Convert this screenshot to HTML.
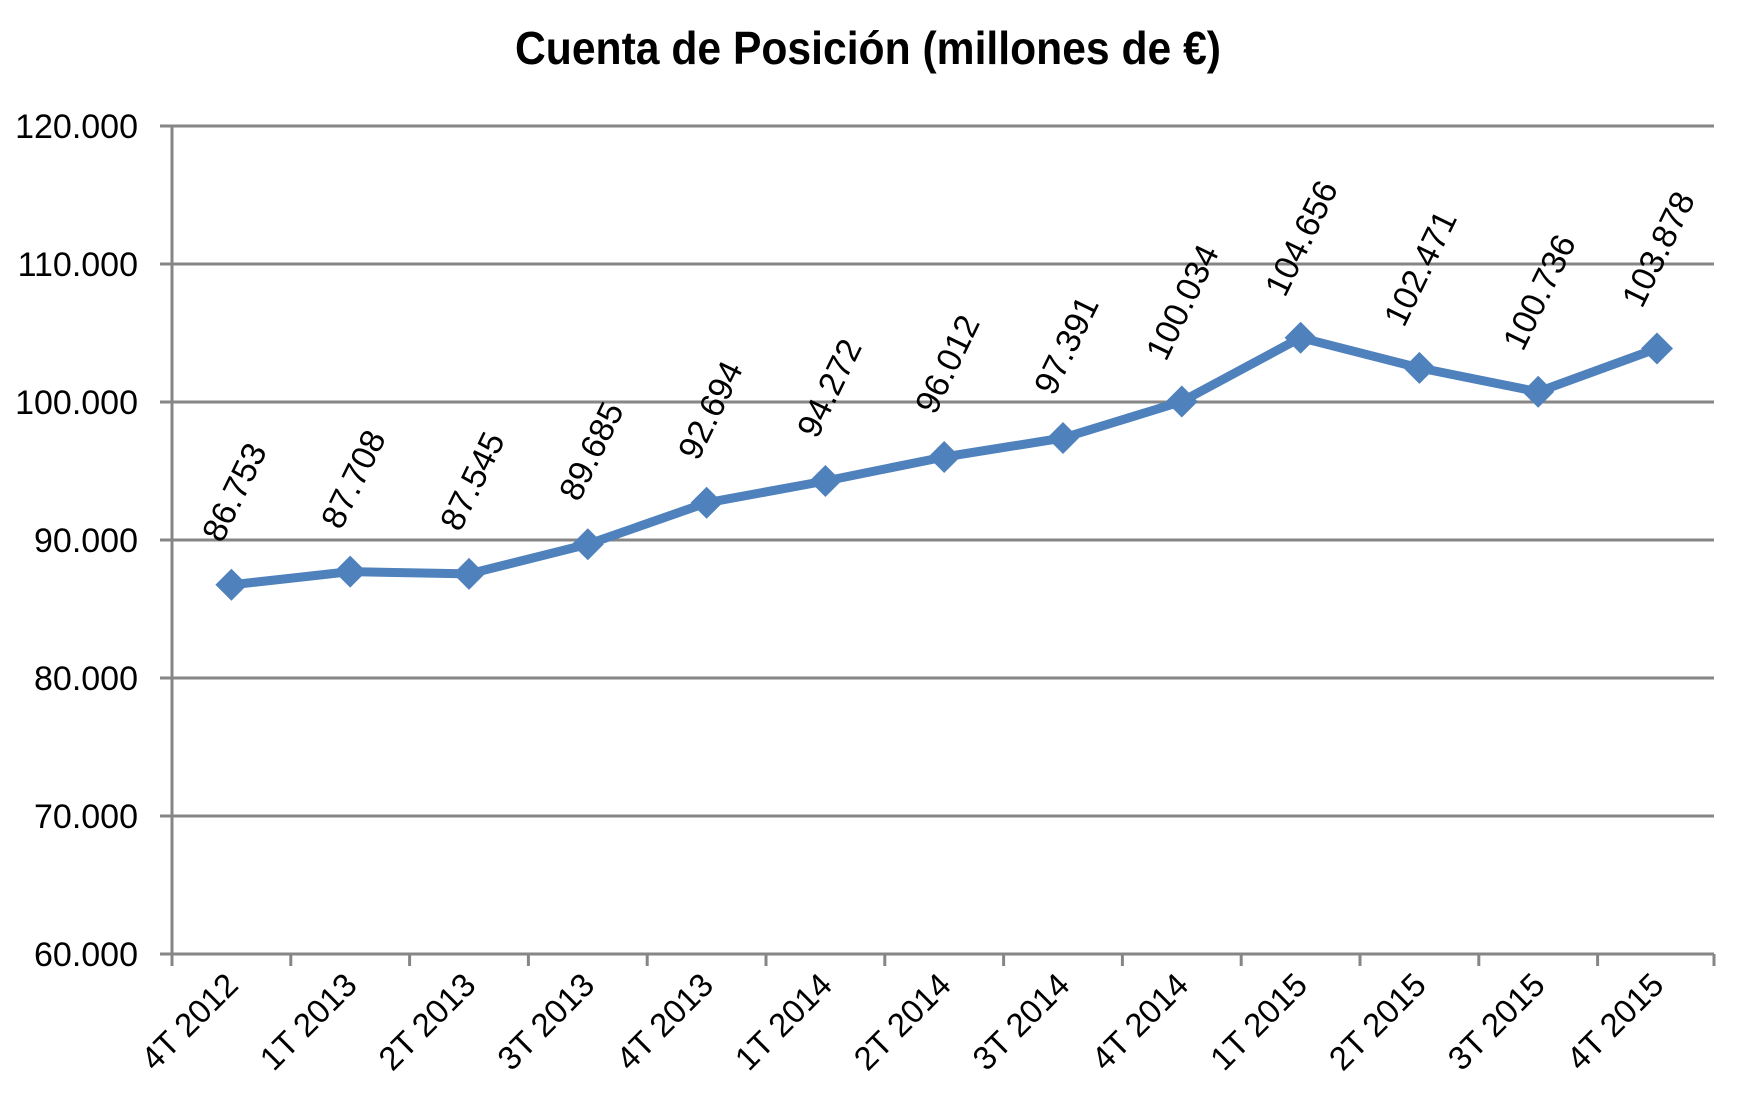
<!DOCTYPE html>
<html><head><meta charset="utf-8"><style>html,body{margin:0;padding:0;background:#fff}svg{display:block}</style></head>
<body>
<svg width="1739" height="1113" viewBox="0 0 1739 1113" xmlns="http://www.w3.org/2000/svg" font-family="Liberation Sans, sans-serif">
<text x="868" y="64" text-anchor="middle" font-size="46" font-weight="bold" textLength="706" lengthAdjust="spacingAndGlyphs">Cuenta de Posición (millones de €)</text>
<g stroke="#868686" stroke-width="3">
<line x1="160" y1="126" x2="1714" y2="126"/>
<line x1="160" y1="264" x2="1714" y2="264"/>
<line x1="160" y1="402" x2="1714" y2="402"/>
<line x1="160" y1="540" x2="1714" y2="540"/>
<line x1="160" y1="678" x2="1714" y2="678"/>
<line x1="160" y1="816" x2="1714" y2="816"/>
<line x1="160" y1="954" x2="1714" y2="954"/>
<line x1="172" y1="126" x2="172" y2="966"/>
<line x1="290.8" y1="954" x2="290.8" y2="966"/>
<line x1="409.6" y1="954" x2="409.6" y2="966"/>
<line x1="528.4" y1="954" x2="528.4" y2="966"/>
<line x1="647.2" y1="954" x2="647.2" y2="966"/>
<line x1="766" y1="954" x2="766" y2="966"/>
<line x1="884.8" y1="954" x2="884.8" y2="966"/>
<line x1="1003.6" y1="954" x2="1003.6" y2="966"/>
<line x1="1122.4" y1="954" x2="1122.4" y2="966"/>
<line x1="1241.2" y1="954" x2="1241.2" y2="966"/>
<line x1="1360" y1="954" x2="1360" y2="966"/>
<line x1="1478.8" y1="954" x2="1478.8" y2="966"/>
<line x1="1597.6" y1="954" x2="1597.6" y2="966"/>
<line x1="1714" y1="954" x2="1714" y2="966"/>
</g>
<g font-size="34" text-anchor="end" fill="#000">
<text x="138" y="138">120.000</text>
<text x="138" y="276">110.000</text>
<text x="138" y="414">100.000</text>
<text x="138" y="552">90.000</text>
<text x="138" y="690">80.000</text>
<text x="138" y="828">70.000</text>
<text x="138" y="966">60.000</text>
</g>
<g font-size="33" text-anchor="end" fill="#000">
<text transform="translate(240,987) rotate(-45)">4T 2012</text>
<text transform="translate(358.8,987) rotate(-45)">1T 2013</text>
<text transform="translate(477.6,987) rotate(-45)">2T 2013</text>
<text transform="translate(596.4,987) rotate(-45)">3T 2013</text>
<text transform="translate(715.2,987) rotate(-45)">4T 2013</text>
<text transform="translate(834,987) rotate(-45)">1T 2014</text>
<text transform="translate(952.8,987) rotate(-45)">2T 2014</text>
<text transform="translate(1071.6,987) rotate(-45)">3T 2014</text>
<text transform="translate(1190.4,987) rotate(-45)">4T 2014</text>
<text transform="translate(1309.2,987) rotate(-45)">1T 2015</text>
<text transform="translate(1428,987) rotate(-45)">2T 2015</text>
<text transform="translate(1546.8,987) rotate(-45)">3T 2015</text>
<text transform="translate(1665.6,987) rotate(-45)">4T 2015</text>
</g>
<polyline fill="none" stroke="#4f81bd" stroke-width="9" stroke-linejoin="round" points="231.4,584.8 350.2,571.6 469,573.9 587.8,544.3 706.6,502.8 825.4,481 944.2,457 1063,438 1181.8,401.5 1300.6,337.7 1419.4,367.9 1538.2,391.8 1657,348.5"/>
<g fill="#4f81bd">
<path d="M231.4 568.8l16 16-16 16-16-16z"/>
<path d="M350.2 555.6l16 16-16 16-16-16z"/>
<path d="M469 557.9l16 16-16 16-16-16z"/>
<path d="M587.8 528.3l16 16-16 16-16-16z"/>
<path d="M706.6 486.8l16 16-16 16-16-16z"/>
<path d="M825.4 465l16 16-16 16-16-16z"/>
<path d="M944.2 441l16 16-16 16-16-16z"/>
<path d="M1063 422l16 16-16 16-16-16z"/>
<path d="M1181.8 385.5l16 16-16 16-16-16z"/>
<path d="M1300.6 321.7l16 16-16 16-16-16z"/>
<path d="M1419.4 351.9l16 16-16 16-16-16z"/>
<path d="M1538.2 375.8l16 16-16 16-16-16z"/>
<path d="M1657 332.5l16 16-16 16-16-16z"/>
</g>
<g font-size="34" text-anchor="middle" fill="#000">
<text transform="translate(234,492) rotate(-64)" dy="12">86.753</text>
<text transform="translate(353,479) rotate(-64)" dy="12">87.708</text>
<text transform="translate(472,481) rotate(-64)" dy="12">87.545</text>
<text transform="translate(591,451) rotate(-64)" dy="12">89.685</text>
<text transform="translate(710,410) rotate(-64)" dy="12">92.694</text>
<text transform="translate(829,388) rotate(-64)" dy="12">94.272</text>
<text transform="translate(947,364) rotate(-64)" dy="12">96.012</text>
<text transform="translate(1066,345) rotate(-64)" dy="12">97.391</text>
<text transform="translate(1182,302) rotate(-64)" dy="12">100.034</text>
<text transform="translate(1301,238) rotate(-64)" dy="12">104.656</text>
<text transform="translate(1420,268) rotate(-64)" dy="12">102.471</text>
<text transform="translate(1539,292) rotate(-64)" dy="12">100.736</text>
<text transform="translate(1658,249) rotate(-64)" dy="12">103.878</text>
</g>
</svg>
</body></html>
